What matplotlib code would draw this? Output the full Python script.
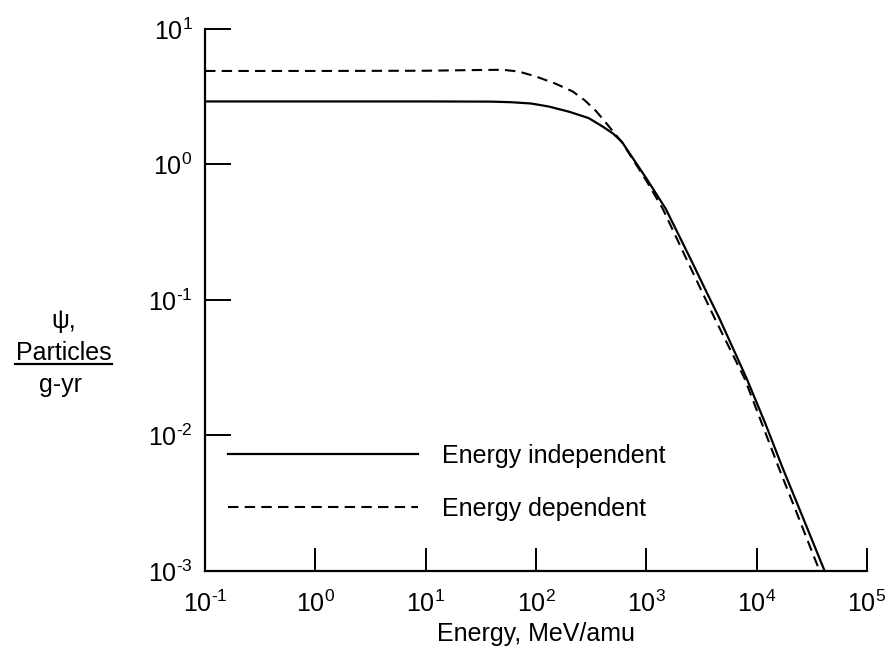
import matplotlib
matplotlib.use('Agg')
import matplotlib.pyplot as plt
from matplotlib.lines import Line2D

plt.rcParams['font.family'] = ['Liberation Sans', 'DejaVu Sans']
plt.rcParams['mathtext.fontset'] = 'custom'
plt.rcParams['mathtext.rm'] = 'Liberation Sans'
plt.rcParams['mathtext.it'] = 'Liberation Sans:italic'
plt.rcParams['mathtext.bf'] = 'Liberation Sans:bold'

# values
energy_indep = [0.1, 1, 10, 40, 60, 90, 130, 200, 300, 400, 500, 600, 750,
                1000, 1500, 2000, 2600, 3500, 4600, 6000, 8100, 12000,
                17200, 25000, 41300]
psi_indep = [2.92, 2.92, 2.92, 2.91, 2.88, 2.82, 2.68, 2.45, 2.2, 1.91,
             1.69, 1.47, 1.12, 0.79, 0.47, 0.293, 0.19, 0.115, 0.073,
             0.0453, 0.0264, 0.0122, 0.00575, 0.00273, 0.001]

energy_dep = [0.1, 1, 10, 30, 50, 70, 100, 150, 215, 280, 353, 420, 500,
              600, 750, 1000, 1410, 2370, 3000, 4170, 5500, 7760, 11000,
              15900, 23000, 37200]
psi_dep = [4.9, 4.9, 4.92, 4.98, 5.0, 4.85, 4.46, 3.95, 3.46, 2.95, 2.46,
           2.08, 1.75, 1.46, 1.1, 0.76, 0.47, 0.192, 0.128, 0.073, 0.0464,
           0.0264, 0.0126, 0.00575, 0.0027, 0.001]

x_ticks = [1e-1, 1e0, 1e1, 1e2, 1e3, 1e4, 1e5]
x_exps = ['-1', '0', '1', '2', '3', '4', '5']
y_ticks = [1e-3, 1e-2, 1e-1, 1e0, 1e1]
y_exps = ['-3', '-2', '-1', '0', '1']


def pow_label(e):
    # plain hyphen in the exponent, like the original
    return r'$\mathdefault{10^{\text{' + e + '}}}$'


fig = plt.figure(figsize=(8.93, 6.62), dpi=100)
ax = fig.add_axes([0.2296, 0.1375, 0.7413, 0.8187])

ax.plot(energy_indep, psi_indep, color='black', lw=1.6,
        label='Energy independent')
ax.plot(energy_dep, psi_dep, color='black', lw=1.5, dashes=(5, 3),
        label='Energy dependent')

ax.set_xscale('log')
ax.set_yscale('log')
ax.set_xlim(1e-1, 1e5)
ax.set_ylim(1e-3, 1e1)
ax.set_xticks(x_ticks, [pow_label(e) for e in x_exps])
ax.set_yticks(y_ticks, [pow_label(e) for e in y_exps])
ax.minorticks_off()

for side in ['top', 'right']:
    ax.spines[side].set_visible(False)
for side in ['left', 'bottom']:
    ax.spines[side].set_linewidth(1.6)

ax.tick_params(axis='y', direction='in', length=19, width=1.4, pad=9,
               labelsize=18)
ax.tick_params(axis='x', direction='in', length=16.5, width=1.4, pad=14,
               labelsize=18)

ax.set_xlabel('Energy, MeV/amu', fontsize=18, labelpad=4)

# y label as a fraction
fig.text(0.071, 0.5045, '\u03c8,', fontsize=18, ha='center', va='baseline')
fig.text(0.071, 0.4562, 'Particles', fontsize=18, ha='center', va='baseline')
fig.text(0.068, 0.4079, 'g-yr', fontsize=18, ha='center', va='baseline')
fig.add_artist(Line2D([0.0168, 0.1254], [0.450, 0.450], color='black',
                      lw=1.6, transform=fig.transFigure))

ax.legend(loc='lower left', bbox_to_anchor=(0.0195, 0.074), frameon=False,
          fontsize=18, handlelength=7.6, handletextpad=0.96,
          labelspacing=1.16, borderaxespad=0)

fig.savefig('out.png', dpi=100)
